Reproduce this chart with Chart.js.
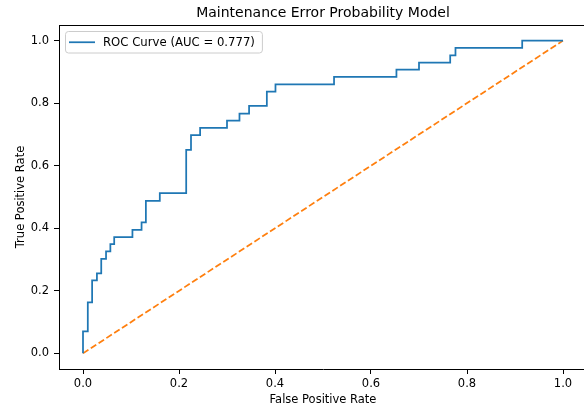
<!DOCTYPE html>
<html>
<head>
<meta charset="utf-8">
<script src="https://cdn.jsdelivr.net/npm/chart.js@4"></script>
<style>
  html, body { margin: 0; padding: 0; background: #fff; overflow: hidden; }
  #wrap { width: 584px; height: 407px; overflow: hidden; }
</style>
</head>
<body>
<div id="wrap"><canvas id="roc" width="600" height="407"></canvas></div>
<script>
// step points of the ROC curve (fpr where tpr jumps, tpr after the jump)
const stepFpr = [0, 0.010, 0.019, 0.029, 0.038, 0.048, 0.057, 0.065, 0.103, 0.122, 0.131, 0.160, 0.215,
  0.225, 0.244, 0.300, 0.326, 0.346, 0.383, 0.401, 0.523, 0.653, 0.700, 0.765, 0.776, 0.915];
const stepTpr = [0.070, 0.163, 0.233, 0.256, 0.302, 0.326, 0.349, 0.372, 0.395, 0.419, 0.488, 0.512, 0.651,
  0.698, 0.721, 0.744, 0.767, 0.791, 0.837, 0.860, 0.884, 0.907, 0.930, 0.953, 0.977, 1.0];
const diagX = [0, 1];
const diagY = [0, 1];
const tickValues = [0, 0.2, 0.4, 0.6, 0.8, 1.0];
const aucLabel = 'ROC Curve (AUC = 0.777)';

const rocPoints = [{ x: 0, y: 0 }];
stepFpr.forEach(function (f, i) { rocPoints.push({ x: f, y: stepTpr[i] }); });
rocPoints.push({ x: 1, y: 1 });
const diagPoints = diagX.map(function (x, i) { return { x: x, y: diagY[i] }; });

const FONT = 'DejaVu Sans';
Chart.defaults.color = '#000';
Chart.defaults.font.family = FONT;

const fixTicks = function (scale) {
  scale.ticks = tickValues.map(function (v) { return { value: v }; });
};

// top/right spines and the matplotlib-like legend box
const framePlugin = {
  id: 'frame',
  afterDraw: function (chart) {
    const c = chart.ctx, a = chart.chartArea;
    c.save();
    c.strokeStyle = '#000';
    c.lineWidth = 1;
    c.beginPath();
    c.moveTo(a.left, a.top + 0.5);
    c.lineTo(a.right, a.top + 0.5);
    c.moveTo(a.right - 0.5, a.top);
    c.lineTo(a.right - 0.5, a.bottom);
    c.stroke();

    const ds = chart.data.datasets[0];
    c.font = '11.7px ' + FONT;
    const tw = c.measureText(ds.label).width;
    const x0 = a.left + 6, y0 = a.top + 6, h = 21.5, w = 38 + tw + 7;
    c.beginPath();
    c.roundRect(x0 + 0.5, y0 + 0.5, w, h, 3);
    c.fillStyle = 'rgba(255,255,255,0.8)';
    c.fill();
    c.strokeStyle = '#cccccc';
    c.stroke();
    c.beginPath();
    c.strokeStyle = ds.borderColor;
    c.lineWidth = ds.borderWidth;
    c.moveTo(x0 + 4, y0 + h / 2 + 0.5);
    c.lineTo(x0 + 30, y0 + h / 2 + 0.5);
    c.stroke();
    c.fillStyle = '#000';
    c.textBaseline = 'middle';
    c.fillText(ds.label, x0 + 38, y0 + h / 2 + 1);
    c.restore();
  }
};

new Chart(document.getElementById('roc').getContext('2d'), {
  type: 'line',
  data: {
    datasets: [{
      label: aucLabel,
      data: rocPoints,
      borderColor: '#1f77b4',
      borderWidth: 1.75,
      stepped: 'before',
      pointRadius: 0,
      fill: false
    }, {
      label: 'chance',
      data: diagPoints,
      borderColor: '#ff7f0e',
      borderWidth: 1.75,
      borderDash: [6.5, 2.8],
      pointRadius: 0,
      fill: false
    }]
  },
  options: {
    responsive: false,
    animation: false,
    layout: { padding: { left: 0, right: 13, top: 0, bottom: 0 } },
    plugins: {
      legend: { display: false },
      tooltip: { enabled: false },
      title: {
        display: true,
        fullSize: false,
        text: 'Maintenance Error Probability Model',
        font: { size: 14, weight: 'normal', family: FONT },
        color: '#000',
        padding: { top: 5, bottom: 3.2 }
      }
    },
    scales: {
      x: {
        type: 'linear',
        min: -0.05,
        max: 1.05,
        afterBuildTicks: fixTicks,
        afterFit: function (s) { s.height = 38; },
        grid: { drawOnChartArea: false, drawTicks: true, tickLength: 5, color: '#000' },
        border: { display: true, color: '#000', width: 1 },
        ticks: {
          padding: 3,
          maxRotation: 0,
          font: { size: 11.5, family: FONT },
          callback: function (v) { return Number(v).toFixed(1); }
        },
        title: {
          display: true,
          text: 'False Positive Rate',
          font: { size: 11.5, family: FONT },
          padding: { top: 0, bottom: 0 }
        }
      },
      y: {
        type: 'linear',
        min: -0.05,
        max: 1.05,
        afterBuildTicks: fixTicks,
        afterFit: function (s) { s.width = 59; },
        grid: { drawOnChartArea: false, drawTicks: true, tickLength: 5, color: '#000' },
        border: { display: true, color: '#000', width: 1 },
        ticks: {
          padding: 5,
          font: { size: 11.5, family: FONT },
          callback: function (v) { return Number(v).toFixed(1); }
        },
        title: {
          display: true,
          text: 'True Positive Rate',
          font: { size: 11.5, family: FONT },
          padding: { top: 14, bottom: 0 }
        }
      }
    }
  },
  plugins: [framePlugin]
});
</script>
</body>
</html>
